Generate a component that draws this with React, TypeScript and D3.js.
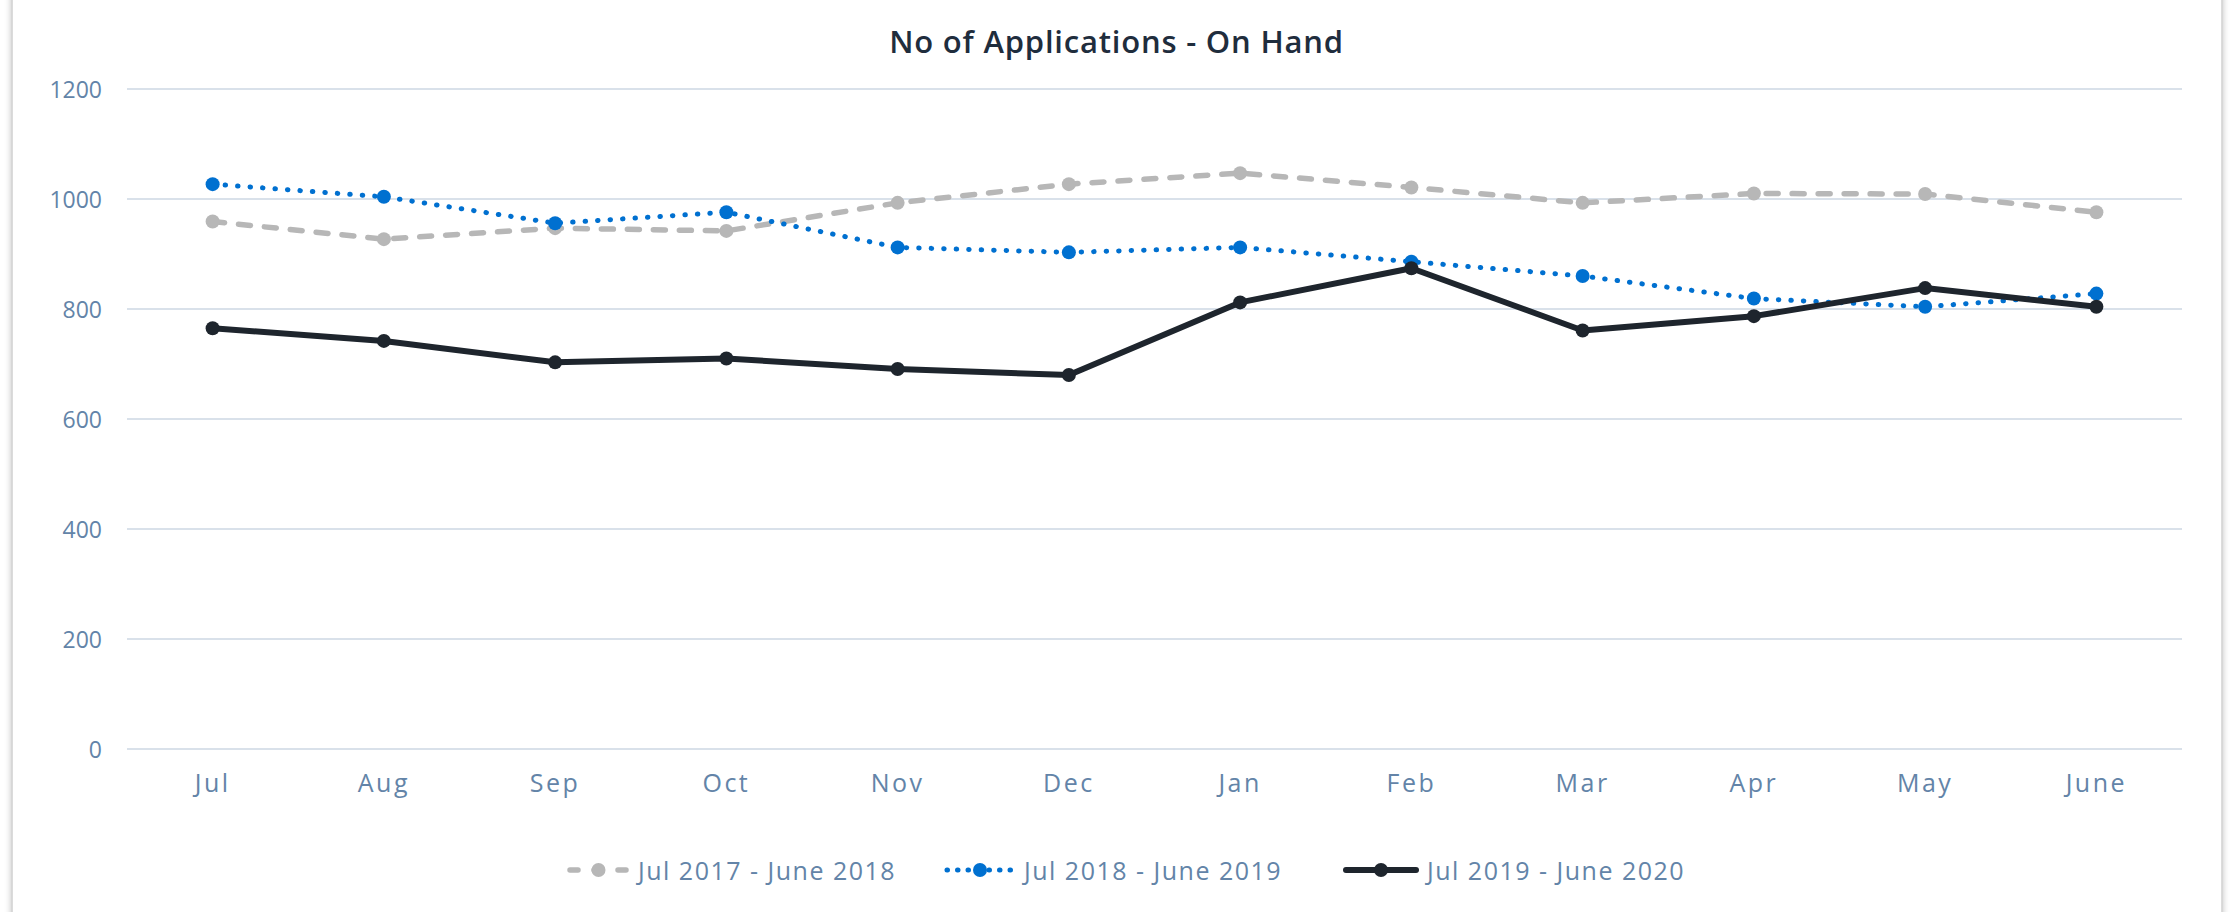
import React from "react";
import * as d3 from "d3";

const months = ["Jul", "Aug", "Sep", "Oct", "Nov", "Dec", "Jan", "Feb", "Mar", "Apr", "May", "June"];
const series2017 = [959, 927, 947, 942, 993, 1027, 1047, 1021, 993, 1010, 1009, 976];
const series2018 = [1027, 1004, 956, 976, 912, 903, 912, 886, 860, 819, 804, 828];
const series2019 = [765, 742, 703, 710, 691, 680, 812, 874, 761, 787, 838, 804];
const seriesNames = ["Jul 2017 - June 2018", "Jul 2018 - June 2019", "Jul 2019 - June 2020"];
const yTicks = [0, 200, 400, 600, 800, 1000, 1200];
const title = "No of Applications - On Hand";

const W = 2233;
const H = 912;
const left = 127;
const right = 2182;
const top = 89;
const bottom = 749;

const labelColor = "#6384a8";
const font = "'Open Sans', 'Noto Sans', sans-serif";

const styles = [
  { color: "#b7b7b7", width: 5.5, dash: "12 14", cap: "round" },
  { color: "#0070d0", width: 5, dash: "0.5 12", cap: "round" },
  { color: "#1e252d", width: 6, dash: null, cap: "round" },
];

export default function App() {
  const x = d3.scaleBand<string>().domain(months).range([left, right]).padding(0);
  const y = d3.scaleLinear().domain([0, 1200]).range([bottom, top]);
  const cx = (m: string) => (x(m) as number) + x.bandwidth() / 2;
  const line = d3
    .line<number>()
    .x((_, i) => cx(months[i]))
    .y((d) => y(d));
  const all = [series2017, series2018, series2019];

  const legendItems = [
    { sym: 567, text: 638 },
    { sym: 944, text: 1024 },
    { sym: 1343, text: 1427 },
  ];
  const legendY = 870;

  return (
    <svg
      width={W}
      height={H}
      style={{ position: "absolute", left: 0, top: 0, background: "#fff" }}
    >
      <defs>
        <filter id="sh" x="-5%" y="-5%" width="110%" height="110%">
          <feDropShadow dx="0" dy="0" stdDeviation="3" floodColor="#000" floodOpacity="0.25" />
        </filter>
      </defs>
      <rect x={12} y={-20} width={2210} height={H + 40} fill="#fff" stroke="#d0d0d0" strokeWidth={1.5} filter="url(#sh)" />
      <text
        x={W / 2}
        y={41}
        textAnchor="middle"
        dominantBaseline="central"
        fontFamily={font}
        fontSize={31}
        fontWeight={600}
        letterSpacing={0.8}
        fill="#1f2d3d"
      >
        {title}
      </text>
      {yTicks.map((t) => (
        <g key={t}>
          <line x1={left} x2={right} y1={y(t)} y2={y(t)} stroke="#d9e1ea" strokeWidth={2} />
          <text
            x={102}
            y={y(t)}
            textAnchor="end"
            dominantBaseline="central"
            fontFamily={font}
            fontSize={23}
            fill={labelColor}
          >
            {t}
          </text>
        </g>
      ))}
      {months.map((m) => (
        <text
          key={m}
          x={cx(m)}
          y={782}
          textAnchor="middle"
          dominantBaseline="central"
          fontFamily={font}
          fontSize={25}
          letterSpacing={2.5}
          fill={labelColor}
        >
          {m}
        </text>
      ))}
      {all.map((s, i) => (
        <g key={i}>
          <path
            d={line(s) as string}
            fill="none"
            stroke={styles[i].color}
            strokeWidth={styles[i].width}
            strokeDasharray={styles[i].dash ?? undefined}
            strokeLinecap={styles[i].cap as any}
            strokeLinejoin="round"
          />
          {s.map((v, j) => (
            <circle key={j} cx={cx(months[j])} cy={y(v)} r={7} fill={styles[i].color} />
          ))}
        </g>
      ))}
      {legendItems.map((it, i) => {
        const x0 = it.sym;
        const x1 = it.text - 8;
        const mid = (x0 + x1) / 2;
        return (
          <g key={i}>
            <line
              x1={x0 + 3}
              x2={x1 - 3}
              y1={legendY}
              y2={legendY}
              stroke={styles[i].color}
              strokeWidth={styles[i].width}
              strokeDasharray={i === 0 ? "8 16" : i === 1 ? "0.5 10" : undefined}
              strokeLinecap="round"
            />
            <circle cx={mid} cy={legendY} r={7} fill={styles[i].color} />
            <text
              x={it.text}
              y={legendY}
              dominantBaseline="central"
              fontFamily={font}
              fontSize={25}
              letterSpacing={1.5}
              fill={labelColor}
            >
              {seriesNames[i]}
            </text>
          </g>
        );
      })}
    </svg>
  );
}
